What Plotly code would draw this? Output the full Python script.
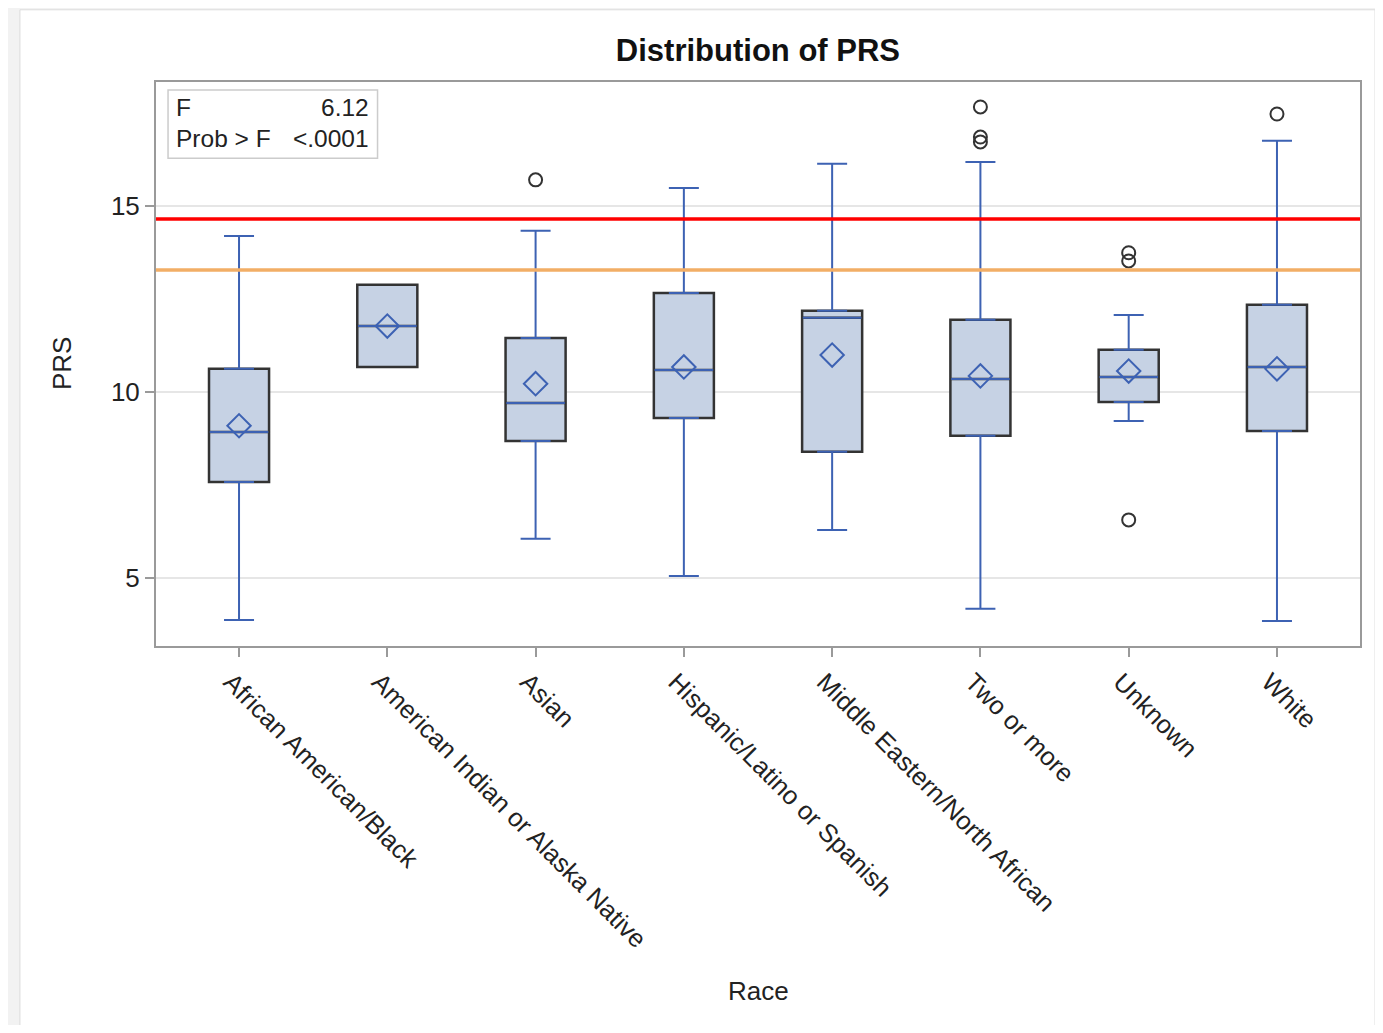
import plotly.graph_objects as go

races = ["African American/Black", "American Indian or Alaska Native", "Asian",
         "Hispanic/Latino or Spanish", "Middle Eastern/North African", "Two or more",
         "Unknown", "White"]
q1 = [7.58, 10.67, 8.68, 9.30, 8.39, 8.82, 9.73, 8.95]
median = [8.92, 11.77, 9.70, 10.59, 11.99, 10.35, 10.40, 10.67]
q3 = [10.62, 12.88, 11.45, 12.66, 12.18, 11.94, 11.13, 12.34]
lower_whisker = [3.87, 10.67, 6.05, 5.05, 6.29, 4.17, 9.22, 3.84]
upper_whisker = [14.19, 12.88, 14.33, 15.48, 16.13, 16.18, 12.07, 16.75]
means = [9.09, 11.77, 10.22, 10.67, 10.99, 10.43, 10.56, 10.62]
outlier_race = ["Asian", "Two or more", "Two or more", "Two or more",
                "Unknown", "Unknown", "Unknown", "White"]
outlier_value = [15.70, 17.66, 16.85, 16.72, 13.74, 13.52, 6.56, 17.47]
red_line = 14.65
orange_line = 13.28
f_value = "6.12"
p_value = "<.0001"

BLUE = "#3d62b3"
FILL = "#c6d2e4"
EDGE = "#333333"
FONT = "Liberation Sans, Arial, sans-serif"

fig = go.Figure()

# box bodies (dark outline, no whiskers)
fig.add_trace(go.Box(
    x=races, q1=q1, median=median, q3=q3, lowerfence=q1, upperfence=q3,
    fillcolor=FILL, line=dict(color=EDGE, width=2.5), width=0.405,
    whiskerwidth=0, boxpoints=False, hoverinfo="skip", showlegend=False))

# blue median line (zero-height box)
fig.add_trace(go.Box(
    x=races, q1=median, median=median, q3=median, lowerfence=median, upperfence=median,
    fillcolor="rgba(0,0,0,0)", line=dict(color=BLUE, width=2), width=0.395,
    whiskerwidth=0, boxpoints=False, hoverinfo="skip", showlegend=False))

# whiskers via error bars
up_len = [u - q if u - q > 1e-9 else None for u, q in zip(upper_whisker, q3)]
lo_len = [q - l if q - l > 1e-9 else None for l, q in zip(lower_whisker, q1)]
up_x = [r for r, v in zip(races, up_len) if v is not None]
up_y = [q for q, v in zip(q3, up_len) if v is not None]
up_e = [v for v in up_len if v is not None]
lo_x = [r for r, v in zip(races, lo_len) if v is not None]
lo_y = [q for q, v in zip(q1, lo_len) if v is not None]
lo_e = [v for v in lo_len if v is not None]

fig.add_trace(go.Scatter(
    x=up_x, y=up_y, mode="markers", marker=dict(size=1, opacity=0),
    error_y=dict(type="data", symmetric=False, array=up_e, arrayminus=[0] * len(up_e),
                 color=BLUE, thickness=2, width=15),
    hoverinfo="skip", showlegend=False))
fig.add_trace(go.Scatter(
    x=lo_x, y=lo_y, mode="markers", marker=dict(size=1, opacity=0),
    error_y=dict(type="data", symmetric=False, array=[0] * len(lo_e), arrayminus=lo_e,
                 color=BLUE, thickness=2, width=15),
    hoverinfo="skip", showlegend=False))

# means
fig.add_trace(go.Scatter(
    x=races, y=means, mode="markers",
    marker=dict(symbol="diamond-open", size=18, color=BLUE, line=dict(width=2, color=BLUE)),
    showlegend=False))

# outliers
fig.add_trace(go.Scatter(
    x=outlier_race, y=outlier_value, mode="markers",
    marker=dict(symbol="circle-open", size=13, color="#333333", line=dict(width=2, color="#333333")),
    showlegend=False))

shapes = [
    # white page panel over the light-gray outer frame
    dict(type="rect", xref="paper", yref="paper", x0=-0.113, x1=1.0125, y0=-0.681, y1=1.128,
         fillcolor="white", line=dict(color="#dcdcdc", width=1), layer="below"),
    dict(type="line", xref="paper", yref="y", x0=0, x1=1, y0=red_line, y1=red_line,
         line=dict(color="#ff0000", width=3.5)),
    dict(type="line", xref="paper", yref="y", x0=0, x1=1, y0=orange_line, y1=orange_line,
         line=dict(color="#f2ae66", width=3.5)),
    # stats box border
    dict(type="rect", xref="paper", yref="paper", x0=0.0100, x1=0.184, y0=0.865, y1=0.986,
         fillcolor="white", line=dict(color="#cccccc", width=1.5), layer="above"),
]

SF = dict(size=24.5, color="#222", family=FONT)
annotations = [
    dict(xref="paper", yref="paper", x=0.0150, y=0.954, text="F", showarrow=False,
         xanchor="left", yanchor="middle", font=SF),
    dict(xref="paper", yref="paper", x=0.1786, y=0.954, text=f_value, showarrow=False,
         xanchor="right", yanchor="middle", font=SF),
    dict(xref="paper", yref="paper", x=0.0150, y=0.899, text="Prob > F", showarrow=False,
         xanchor="left", yanchor="middle", font=SF),
    dict(xref="paper", yref="paper", x=0.1786, y=0.899, text=p_value, showarrow=False,
         xanchor="right", yanchor="middle", font=SF),
    # axis titles
    dict(xref="paper", yref="paper", x=0.5, y=-0.6117, text="Race", showarrow=False,
         xanchor="center", yanchor="middle", font=dict(size=26, color="#222", family=FONT)),
    dict(xref="paper", yref="paper", x=-0.078, y=0.5, text="PRS", showarrow=False,
         textangle=-90, xanchor="center", yanchor="middle",
         font=dict(size=26, color="#222", family=FONT)),
]

fig.update_layout(
    width=1367, height=1017,
    margin=dict(l=148, r=15, t=74, b=379),
    paper_bgcolor="#f2f2f2", plot_bgcolor="white",
    boxmode="overlay",
    font=dict(family=FONT, size=22, color="#222"),
    title=dict(text="<b>Distribution of PRS</b>", x=0.5486, xanchor="center", y=0.9587,
               yanchor="middle", font=dict(size=31, color="#111", family=FONT)),
    shapes=shapes, annotations=annotations,
    xaxis=dict(type="category", categoryorder="array", categoryarray=races,
               range=[-0.56, 7.56], tickangle=45, showline=True, mirror=True,
               linecolor="#9a9a9a", linewidth=2, ticks="outside", ticklen=9,
               tickcolor="#9a9a9a", tickwidth=2, showgrid=False, ticklabelshift=-8,
               tickfont=dict(size=25.5, color="#222")),
    yaxis=dict(range=[3.17, 18.33], tickvals=[5, 10, 15], showline=True, mirror=True,
               linecolor="#9a9a9a", linewidth=2, ticks="outside", ticklen=9,
               tickcolor="#9a9a9a", tickwidth=2, showgrid=True, gridcolor="#e6e6e6",
               gridwidth=1.5, zeroline=False, tickfont=dict(size=26, color="#222")),
)

fig.write_html("out.html")
